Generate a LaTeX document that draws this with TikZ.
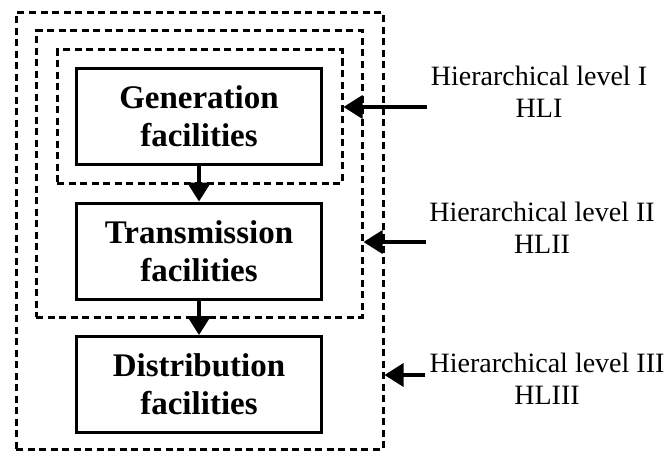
\documentclass[tikz,border=0pt]{standalone}
\usepackage{fontspec}
\setmainfont{Liberation Serif}
\usetikzlibrary{arrows.meta}

\tikzset{
  facility/.style={draw, line width=3pt, minimum width=245pt, minimum height=96pt,
    inner sep=0pt, align=center, font=\bfseries\fontsize{33}{38}\selectfont},
  levelbox/.style={draw, line width=3pt, dash pattern=on 7pt off 4.5pt, inner sep=0pt},
  levellabel/.style={align=center, font=\fontsize{28}{32}\selectfont},
  flow/.style={line width=3.5pt, -{Triangle[length=19pt,width=23pt]}}
}

\begin{document}
\begin{tikzpicture}[x=1pt,y=-1pt]
\useasboundingbox (0,0) rectangle (668,452);

\node (hl3) at (199.5,231) [levelbox, minimum width=367pt, minimum height=436pt] {};
\node (hl2) at (199,174) [levelbox, minimum width=326pt, minimum height=286pt] {};
\node (hl1) at (199.5,116.5) [levelbox, minimum width=285pt, minimum height=133pt] {};

\node (gen) at (199,116.5) [facility] {Generation\\facilities};
\node (trans) at (199,251) [facility] {Transmission\\facilities};
\node (dist) at (199,384.5) [facility] {Distribution\\facilities};

\node (lab1) at (539,92) [levellabel] {Hierarchical level I\\HLI};
\node (lab2) at (542,228) [levellabel] {Hierarchical level II\\HLII};
\node (lab3) at (547,379) [levellabel] {Hierarchical level III\\HLIII};

\coordinate (t1) at (427,107);
\coordinate (t2) at (426,242);
\coordinate (t3) at (425,375);

\draw[flow]
(gen.south) to (trans.north);
\draw[flow]
(trans.south) to (dist.north);

\draw[flow]
(t1) to (t1 -| hl1.east);
\draw[flow]
(t2) to (t2 -| hl2.east);
\draw[flow]
(t3) to (t3 -| hl3.east);
\end{tikzpicture}
\end{document}
